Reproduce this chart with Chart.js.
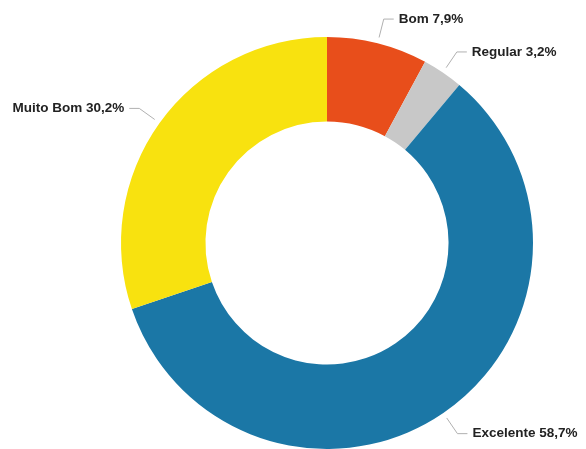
<!DOCTYPE html>
<html>
<head>
<meta charset="utf-8">
<script src="https://cdn.jsdelivr.net/npm/chart.js@4"></script>
<style>
  html, body { margin: 0; padding: 0; background: #fff; }
  #wrap { width: 586px; height: 449px; position: relative; }
</style>
</head>
<body>
<div id="wrap"><canvas id="grafico"></canvas></div>
<script>
const categorias = ["Bom", "Regular", "Excelente", "Muito Bom"];
const percentuais = [7.9, 3.2, 58.7, 30.2];
const cores = ["#e84e1b", "#c8c8c8", "#1b77a6", "#f8e20f"];

// rotulos externos com linha de ligacao
const rotulos = {
    id: "rotulos",
    afterDatasetsDraw(chart){
        const ctx = chart.ctx;
        const arcs = chart.getDatasetMeta(0).data;
        ctx.save();
        ctx.font = "bold 13.5px 'Liberation Sans', Arial, sans-serif";
        ctx.textBaseline = "middle";
        arcs.forEach((arc, i) => {
            const p = arc.getProps(["x","y","startAngle","endAngle","outerRadius"], true);
            const a = (p.startAngle + p.endAngle) / 2;
            const cx = Math.cos(a), cy = Math.sin(a);
            const x0 = p.x + (p.outerRadius + 6) * cx;
            const y0 = p.y + (p.outerRadius + 6) * cy;
            const x1 = p.x + (p.outerRadius + 25) * cx;
            const y1 = p.y + (p.outerRadius + 25) * cy;
            const lado = cx >= 0 ? 1 : -1;
            const x2 = x1 + lado * 10;
            ctx.strokeStyle = "#b0b0b0";
            ctx.lineWidth = 1;
            ctx.beginPath();
            ctx.moveTo(x0, y0);
            ctx.lineTo(x1, y1);
            ctx.lineTo(x2, y1);
            ctx.stroke();
            const texto = categorias[i] + " " + percentuais[i].toFixed(1).replace(".", ",") + "%";
            ctx.fillStyle = "#222";
            ctx.textAlign = lado > 0 ? "left" : "right";
            ctx.fillText(texto, x2 + lado * 5, y1);
        });
        ctx.restore();
    }
};

new Chart(document.getElementById("grafico"), {
    type: "doughnut",
    data: {
        labels: categorias,
        datasets: [{
            data: percentuais,
            backgroundColor: cores,
            borderWidth: 0,
            hoverOffset: 0
        }]
    },
    options: {
        responsive: true,
        maintainAspectRatio: false,
        animation: false,
        cutout: "59%",
        layout: { padding: { top: 37, left: 68, right: 0, bottom: 0 } },
        plugins: {
            legend: { display: false },
            tooltip: { enabled: false }
        }
    },
    plugins: [rotulos]
});
</script>
</body>
</html>
